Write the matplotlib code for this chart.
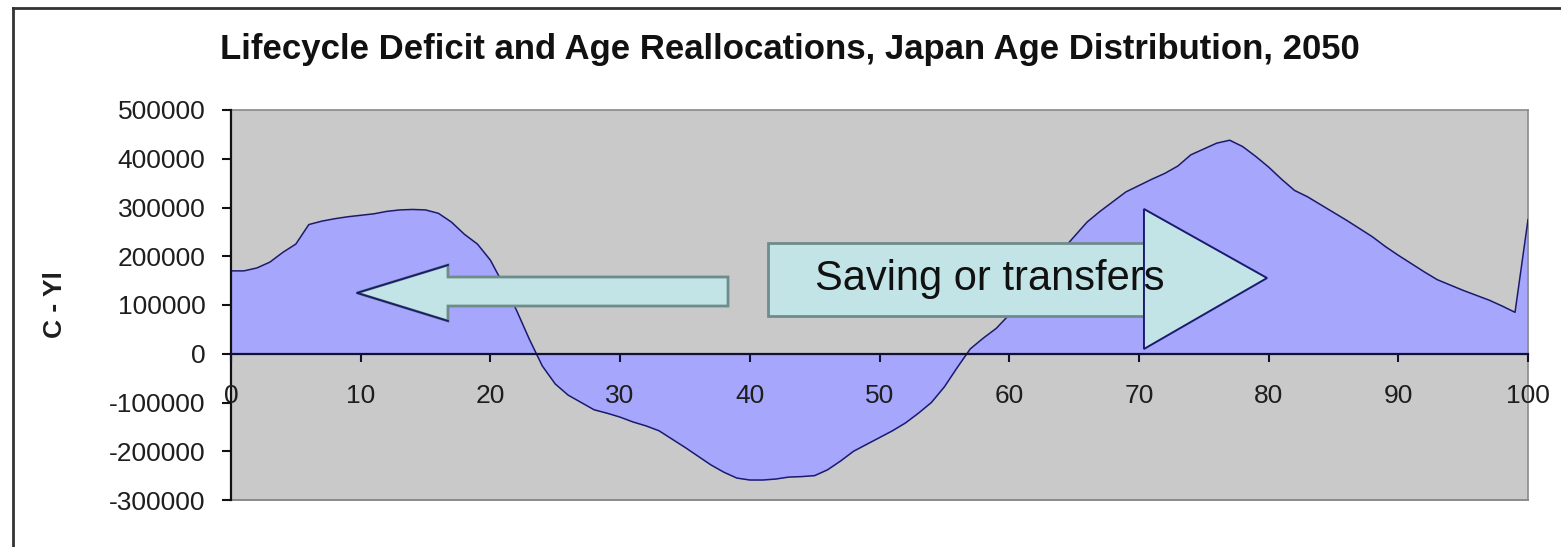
import matplotlib
matplotlib.use("Agg")
import matplotlib.pyplot as plt
from matplotlib.patches import Polygon, Rectangle
from matplotlib.lines import Line2D

plt.rcParams['font.family'] = ['Liberation Sans', 'DejaVu Sans']

# ---- data ----
ages = list(range(0, 101))
deficit = [
    170000, 170000, 176000, 188000, 208000, 225000, 265000, 272000, 277000, 281000,
    284000, 287000, 292000, 295000, 296000, 295000, 288000, 270000, 245000, 225000,
    192000, 142000, 90000, 30000, -25000, -62000, -85000, -100000, -115000, -122000,
    -130000, -140000, -148000, -158000, -175000, -192000, -210000, -228000, -243000, -255000,
    -259000, -259000, -257000, -253000, -252000, -250000, -238000, -220000, -200000, -186000,
    -172000, -158000, -142000, -122000, -100000, -68000, -28000, 10000, 32000, 52000,
    80000, 110000, 140000, 172000, 210000, 240000, 270000, 292000, 312000, 332000,
    345000, 358000, 370000, 385000, 408000, 420000, 432000, 438000, 425000, 405000,
    383000, 358000, 335000, 322000, 306000, 290000, 274000, 257000, 240000, 220000,
    202000, 185000, 168000, 152000, 141000, 130000, 120000, 110000, 98000, 85000,
    275000,
]
x_ticks = list(range(0, 101, 10))
y_ticks = [-300000, -200000, -100000, 0, 100000, 200000, 300000, 400000, 500000]
title = "Lifecycle Deficit and Age Reallocations, Japan Age Distribution, 2050"
ylabel = "C - Yl"
note = "Saving or transfers"

W, H = 1561, 547
fig = plt.figure(figsize=(W / 100, H / 100), dpi=100)
fig.patch.set_facecolor('white')

L, R, T, B = 231, 1528, 110, 500
ax = fig.add_axes([L / W, 1 - B / H, (R - L) / W, (B - T) / H])
ax.set_facecolor('#C9C9C9')

ax.fill_between(ages, deficit, 0, color='#A6A6FC', linewidth=0, zorder=2)
ax.plot(ages, deficit, color='#1A1A6E', linewidth=1.1, zorder=3)

ax.set_xlim(0, 100)
ax.set_ylim(-300000, 500000)
ax.set_xticks(x_ticks)
ax.set_yticks(y_ticks)
ax.set_xticklabels([str(v) for v in x_ticks])
ax.set_yticklabels([str(v) for v in y_ticks])
ax.xaxis.set_zorder(5)
ax.yaxis.set_zorder(5)

for s in ['top', 'right']:
    ax.spines[s].set_color('#8A8A8A')
    ax.spines[s].set_linewidth(1.2)
ax.spines['left'].set_color('#111111')
ax.spines['left'].set_linewidth(1.6)
ax.spines['left'].set_zorder(5)
ax.spines['bottom'].set_position(('data', 0))
ax.spines['bottom'].set_color('#111133')
ax.spines['bottom'].set_linewidth(1.6)
ax.spines['bottom'].set_zorder(5)
ax.plot([0, 1], [0, 0], transform=ax.transAxes, color='#8A8A8A', lw=1.4,
        clip_on=False, zorder=5)

ax.tick_params(axis='y', direction='out', length=6.5, width=1.5, pad=12,
               labelsize=19, labelcolor='#1E1E1E', color='#111111')
ax.tick_params(axis='x', direction='out', length=6, width=1.5, pad=16,
               labelsize=19, labelcolor='#1E1E1E', color='#111133')

ax.set_ylabel(ylabel, fontsize=19, fontweight='bold', color='#1E1E1E')
ax.yaxis.set_label_coords((67 - L) / (R - L), 0.5)

# ---- arrows (axes fraction) ----
fillc = '#C3E4E6'
grayedge = '#6F8C8C'
navy = '#1A1A6E'

left_arrow = [(0.0971, 0.531), (0.1673, 0.6026), (0.1673, 0.5718), (0.3832, 0.5718),
              (0.3832, 0.4974), (0.1673, 0.4974), (0.1673, 0.4590)]
ax.add_patch(Polygon(left_arrow, closed=True, transform=ax.transAxes,
                     facecolor=fillc, edgecolor=grayedge, lw=2.0, zorder=6))
ax.add_line(Line2D([0.1673, 0.0971, 0.1673], [0.6026, 0.531, 0.4590],
                   transform=ax.transAxes, color=navy, lw=1.3, zorder=7))

ax.add_patch(Rectangle((0.4140, 0.4718), 0.7039 - 0.4140, 0.659 - 0.4718,
                       transform=ax.transAxes, facecolor=fillc, edgecolor=grayedge,
                       lw=2.0, zorder=6))
ax.add_patch(Polygon([(0.7039, 0.7462), (0.7988, 0.5692), (0.7039, 0.3872)],
                     closed=True, transform=ax.transAxes, facecolor=fillc,
                     edgecolor=navy, lw=1.4, zorder=7))
ax.text(0.585, 0.567, note, transform=ax.transAxes, ha='center', va='center',
        fontsize=30, color='#111111', zorder=8)

# ---- title & figure border ----
fig.text(790 / W, 1 - 50 / H, title, ha='center', va='center', fontsize=25,
         fontweight='bold', color='#111111')
fig.add_artist(Line2D([13 / W, 13 / W], [0, 1 - 8 / H], transform=fig.transFigure,
                      color='#333333', lw=2))
fig.add_artist(Line2D([13 / W, 1], [1 - 8 / H, 1 - 8 / H], transform=fig.transFigure,
                      color='#333333', lw=2))

fig.savefig('out.png', dpi=100, facecolor='white')
